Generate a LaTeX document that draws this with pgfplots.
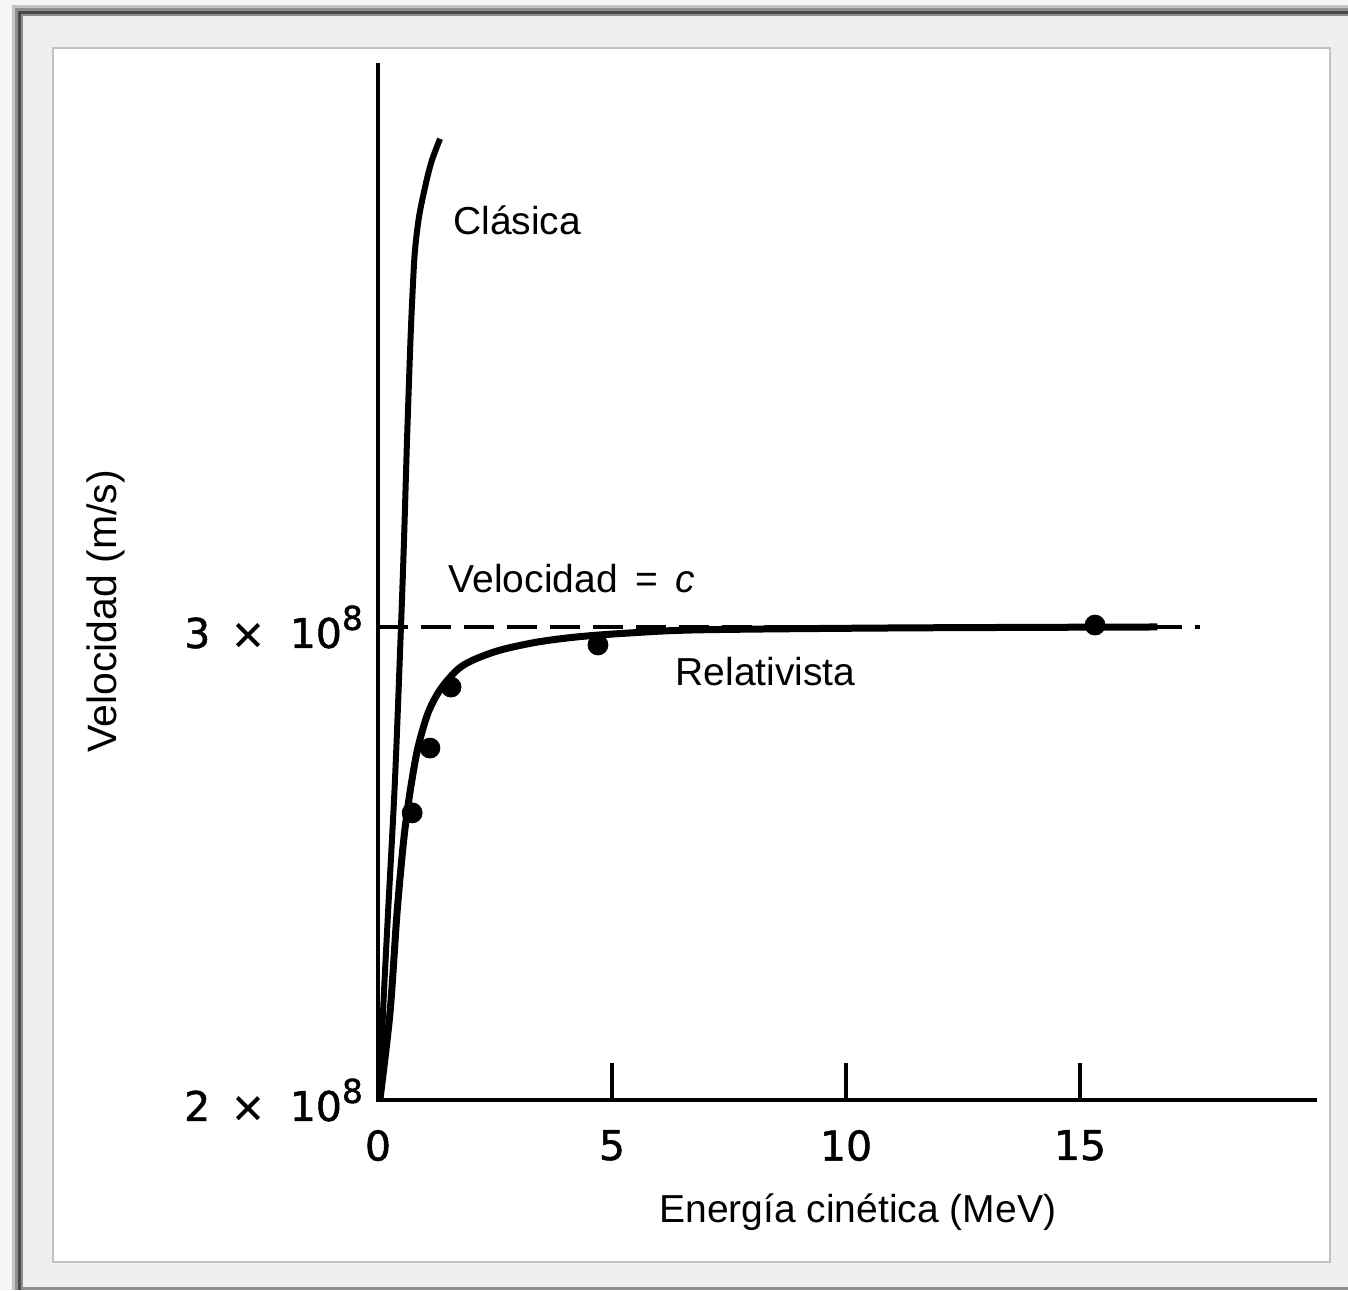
\documentclass[border=0pt]{standalone}
\usepackage{fontspec}
\setmainfont{Liberation Sans}
\newfontfamily\tickfont{DejaVu Sans}[FakeBold=1.2]
\usepackage{pgfplots}
\pgfplotsset{compat=1.18}

\definecolor{pagebg}{HTML}{F6F6F4}
\definecolor{bandlight}{HTML}{C4C4C2}
\definecolor{bandmid}{HTML}{8E8E8C}
\definecolor{banddark}{HTML}{4A4A4A}
\definecolor{matgray}{HTML}{EFEFED}
\definecolor{innerline}{HTML}{C2C2C0}

\newcommand{\txt}{\fontsize{19.5}{23}\selectfont}
\newcommand{\tk}{\tickfont\fontsize{20.5}{24}\selectfont}
\newcommand{\sci}[1]{#1\hspace{0.5em}×\hspace{0.6em}10\raisebox{9pt}{\fontsize{16.5}{18}\selectfont 8}}

\begin{document}
\begin{tikzpicture}
\useasboundingbox (0pt,0pt) rectangle (674pt,-645pt);
% picture frame, pixel units of the reference
\begin{scope}[x=0.5pt,y=-0.5pt]
  \fill[pagebg] (0,0) rectangle (1348,1290);
  \fill[bandlight] (12,5) rectangle (1348,1290);
  \fill[bandmid] (15,8) rectangle (1348,1290);
  \fill[banddark] (18,11) rectangle (1348,1290);
  \fill[bandmid] (21,14) rectangle (1348,1290);
  \fill[matgray] (23,16) rectangle (1348,1287);
  \fill[white] (53,48) rectangle (1330,1262);
  \draw[innerline, line width=0.8pt] (53,48) rectangle (1330,1262);
\end{scope}

\begin{axis}[
    at={(189pt,-550pt)}, anchor=south west,
    scale only axis, width=468.5pt, height=517.5pt,
    axis x line*=bottom, axis y line*=left,
    axis line style={line width=2.4pt, line cap=rect},
    xmin=0, xmax=20.02, ymin=2, ymax=4.188,
    xtick={0,5,10,15}, xticklabels={0,5,10,15},
    ytick={2,3}, yticklabels={\sci{2},\sci{3}},
    tick align=inside, major tick length=18.5pt,
    xtick style={line width=1.6pt, black},
    ytick style={draw=none},
    tick label style={font=\tk},
    xticklabel style={yshift=-11.5pt},
    yticklabel style={xshift=-4pt},
    xlabel={Energía cinética (MeV)},
    ylabel={Velocidad (m/s)},
    xlabel style={at={(axis description cs:0.512,0)}, anchor=base, yshift=-61pt, font=\txt, inner sep=0pt},
    ylabel style={at={(axis description cs:-0.2786,0.472)}, anchor=base, font=\fontsize{20.5}{24}\selectfont, inner sep=0pt},
    clip=false,
  ]

  % velocidad = c
  \addplot[black, line width=2.2pt, dash pattern=on 15pt off 6.5pt] coordinates {(0,3) (17.56,3)};

  % clasica
  \addplot[black, line width=3pt, smooth, line join=round] coordinates {
    (0.04,2.000) (0.107,2.184) (0.214,2.395) (0.363,2.677) (0.491,3.000)
    (0.556,3.184) (0.620,3.395) (0.694,3.607) (0.748,3.727) (0.791,3.797)
    (0.876,3.867) (1.026,3.939) (1.154,3.987) (1.325,4.032)
  };

  % relativista
  \addplot[black, line width=3.5pt, smooth, line join=round] coordinates {
    (0.04,2.000) (0.256,2.184) (0.406,2.395) (0.534,2.535) (0.620,2.607)
    (0.726,2.677) (0.855,2.746) (1.068,2.818) (1.325,2.867) (1.688,2.909)
    (2.030,2.930) (2.607,2.951) (3.397,2.968) (4.252,2.979) (5.321,2.987)
    (6.880,2.994) (11.15,2.998) (16.65,3.000)
  };

  % medidas
  \addplot[only marks, mark=*, mark size=5pt, black] coordinates {
    (0.73,2.607) (1.11,2.744) (1.56,2.873) (4.70,2.962) (15.32,3.004)
  };

  \node[anchor=base west, inner sep=0pt, font=\txt] at (axis cs:1.60,3.829) {Clásica};
  \node[anchor=base west, inner sep=0pt, font=\txt] at (axis cs:1.50,3.072) {Velocidad\hspace{0.45em}=\hspace{0.45em}\textit{c}};
  \node[anchor=base west, inner sep=0pt, font=\txt] at (axis cs:6.35,2.877) {Relativista};
\end{axis}
\end{tikzpicture}
\end{document}
